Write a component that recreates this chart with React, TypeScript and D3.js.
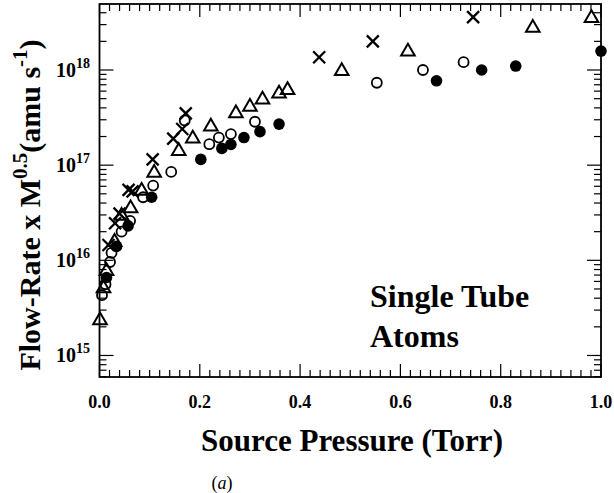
import React from "react";
import * as d3 from "d3";

// Source pressure (Torr) and flow-rate x M^0.5 (amu s^-1) for the four series
const filledX = [0.014, 0.034, 0.057, 0.104, 0.202, 0.244, 0.262, 0.288, 0.32, 0.358, 0.672, 0.762, 0.83, 1.0];
const filledY = [6.6e15, 1.4e16, 2.3e16, 4.6e16, 1.15e17, 1.5e17, 1.65e17, 1.95e17, 2.25e17, 2.7e17, 7.7e17, 1.0e18, 1.1e18, 1.58e18];

const openX = [0.005, 0.012, 0.021, 0.024, 0.044, 0.061, 0.087, 0.107, 0.143, 0.17, 0.219, 0.238, 0.262, 0.31, 0.553, 0.645, 0.726];
const openY = [4.3e15, 5.6e15, 9.6e15, 1.2e16, 2.0e16, 2.6e16, 4.6e16, 6.1e16, 8.5e16, 2.95e17, 1.66e17, 1.95e17, 2.12e17, 2.86e17, 7.35e17, 1.0e18, 1.21e18];

const triX = [0.001, 0.008, 0.014, 0.03, 0.044, 0.062, 0.084, 0.109, 0.158, 0.186, 0.222, 0.272, 0.3, 0.325, 0.358, 0.375, 0.483, 0.615, 0.864, 0.981];
const triY = [2.4e15, 5.2e15, 7.9e15, 1.6e16, 3.0e16, 3.6e16, 5.5e16, 8.5e16, 1.44e17, 1.95e17, 2.6e17, 3.6e17, 4.2e17, 5.0e17, 5.8e17, 6.3e17, 1.0e18, 1.6e18, 2.85e18, 3.6e18];

const crossX = [0.018, 0.031, 0.04, 0.058, 0.066, 0.106, 0.147, 0.165, 0.172, 0.438, 0.545, 0.745];
const crossY = [1.45e16, 2.45e16, 3.1e16, 5.5e16, 5.3e16, 1.15e17, 1.9e17, 2.4e17, 3.5e17, 1.36e18, 2.0e18, 3.6e18];

const xDomain = [0, 1];
const yDomain = [5.94e14, 4.94e18];
const xTickLabels = ["0.0", "0.2", "0.4", "0.6", "0.8", "1.0"];
const yMajorExps = [15, 16, 17, 18];

const W = 614;
const H = 493;
const L = 99.5, R = 601, T = 4, B = 377;
const FONT = "'Liberation Serif', 'Times New Roman', serif";

export default function App() {
  const x = d3.scaleLinear().domain(xDomain).range([L, R]);
  const y = d3.scaleLog().domain(yDomain).range([B, T]);

  const xMinor = d3.range(0, 51).map((i) => i / 50);
  const yTicks = y.ticks();
  const isMajorY = (v: number) => Math.abs(Math.log10(v) - Math.round(Math.log10(v))) < 1e-6;

  const tri = d3.symbol().type(d3.symbolTriangle).size(80);

  return (
    <svg width={W} height={H} style={{ position: "absolute", left: 0, top: 0, background: "#fff" }}>
      <rect x={0} y={0} width={W} height={H} fill="#fff" />
      {/* frame */}
      <rect x={L} y={T} width={R - L} height={B - T} fill="none" stroke="#000" strokeWidth={1.8} />
      {/* x ticks bottom & top */}
      {xMinor.map((v, i) => {
        const major = i % 10 === 0;
        const len = major ? 13 : 7;
        const px = x(v);
        return (
          <g key={"xt" + i}>
            <line x1={px} x2={px} y1={B} y2={B - len} stroke="#000" strokeWidth={1.2} />
            <line x1={px} x2={px} y1={T} y2={T + len} stroke="#000" strokeWidth={1.2} />
          </g>
        );
      })}
      {/* y ticks left & right */}
      {yTicks.map((v, i) => {
        const major = isMajorY(v);
        const len = major ? 14 : 7;
        const py = y(v);
        return (
          <g key={"yt" + i}>
            <line x1={L} x2={L + len} y1={py} y2={py} stroke="#000" strokeWidth={1.2} />
            <line x1={R} x2={R - len} y1={py} y2={py} stroke="#000" strokeWidth={1.2} />
          </g>
        );
      })}
      {/* x tick labels */}
      {xTickLabels.map((t, i) => (
        <text key={"xl" + i} x={x(+t)} y={408} textAnchor="middle" fontFamily={FONT} fontWeight="bold" fontSize={18}>
          {t}
        </text>
      ))}
      {/* y tick labels */}
      {yMajorExps.map((e) => (
        <text key={"yl" + e} x={90} y={y(Math.pow(10, e)) + 7} textAnchor="end" fontFamily={FONT} fontWeight="bold" fontSize={20}>
          10
          <tspan dy={-9} fontSize={14}>{e}</tspan>
        </text>
      ))}
      {/* axis titles */}
      <text x={352} y={451} textAnchor="middle" fontFamily={FONT} fontWeight="bold" fontSize={31}>
        Source Pressure (Torr)
      </text>
      <text x={222} y={489} textAnchor="middle" fontFamily={FONT} fontSize={18}>
        (<tspan fontStyle="italic">a</tspan>)
      </text>
      <text
        transform={`translate(40,205) rotate(-90)`}
        textAnchor="middle"
        fontFamily={FONT}
        fontWeight="bold"
        fontSize={30}
      >
        Flow-Rate x M<tspan dy={-13} fontSize={21}>0.5</tspan>
        <tspan dy={13}>(amu s</tspan>
        <tspan dy={-13} fontSize={21}>-1</tspan>
        <tspan dy={13}>)</tspan>
      </text>
      {/* annotation */}
      <text x={370} y={307} fontFamily={FONT} fontWeight="bold" fontSize={32}>Single Tube</text>
      <text x={370} y={347} fontFamily={FONT} fontWeight="bold" fontSize={32}>Atoms</text>
      {/* data */}
      {filledX.map((v, i) => (
        <circle key={"f" + i} cx={x(v)} cy={y(filledY[i])} r={5.8} fill="#000" />
      ))}
      {openX.map((v, i) => (
        <circle key={"o" + i} cx={x(v)} cy={y(openY[i])} r={5} fill="none" stroke="#000" strokeWidth={1.8} />
      ))}
      {triX.map((v, i) => (
        <path key={"t" + i} d={tri() as string} transform={`translate(${x(v)},${y(triY[i]) + 1})`} fill="none" stroke="#000" strokeWidth={2} />
      ))}
      {crossX.map((v, i) => {
        const cx = x(v);
        const cy = y(crossY[i]);
        const s = 6;
        return (
          <g key={"c" + i} stroke="#000" strokeWidth={2.3}>
            <line x1={cx - s} x2={cx + s} y1={cy - s} y2={cy + s} />
            <line x1={cx - s} x2={cx + s} y1={cy + s} y2={cy - s} />
          </g>
        );
      })}
    </svg>
  );
}
